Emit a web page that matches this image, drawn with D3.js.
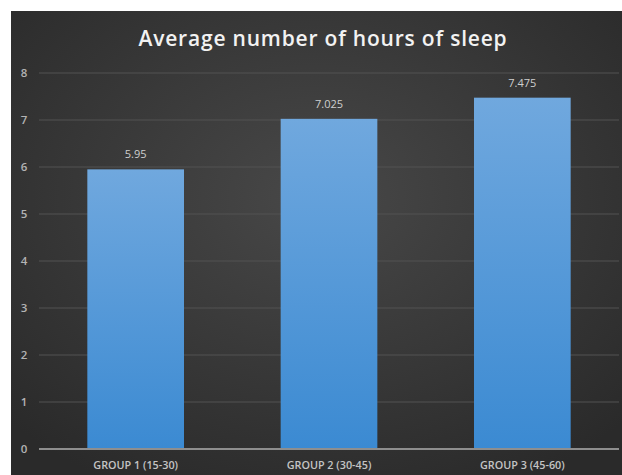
<!DOCTYPE html>
<html><head><meta charset="utf-8">
<script src="https://cdn.jsdelivr.net/npm/d3@7"></script>
<style>html,body{margin:0;padding:0;background:#fff;}svg{display:block;}</style>
</head><body>
<script>
const categories = ["GROUP 1 (15-30)", "GROUP 2 (30-45)", "GROUP 3 (45-60)"];
const values = [5.95, 7.025, 7.475];
const valueLabels = ["5.95", "7.025", "7.475"];
const yTicks = [0, 1, 2, 3, 4, 5, 6, 7, 8];
const title = "Average number of hours of sleep";

const W = 622, H = 475;
const svg = d3.select("body").append("svg").attr("width", W).attr("height", H);
const defs = svg.append("defs");
const bg = defs.append("radialGradient").attr("id", "bg").attr("cx", "50%").attr("cy", "40%").attr("r", "70%");
bg.append("stop").attr("offset", "0%").attr("stop-color", "#484848");
bg.append("stop").attr("offset", "100%").attr("stop-color", "#2a2a2a");
const bar = defs.append("linearGradient").attr("id", "bar").attr("x1", 0).attr("y1", 0).attr("x2", 0).attr("y2", 1);
bar.append("stop").attr("offset", "0%").attr("stop-color", "#70a8de");
bar.append("stop").attr("offset", "100%").attr("stop-color", "#3b8ad2");

svg.append("rect").attr("x", 11).attr("y", 11).attr("width", W - 11).attr("height", H - 11).attr("fill", "url(#bg)");

const x = d3.scaleBand().domain(categories).range([39, 619]).paddingInner(0.5).paddingOuter(0.25);
const y = d3.scaleLinear().domain([0, 8]).range([449, 73]);

svg.append("g").selectAll("line").data(yTicks.filter(d => d > 0)).join("line")
  .attr("x1", 39).attr("x2", 619).attr("y1", d => y(d)).attr("y2", d => y(d))
  .attr("stroke", "#525252").attr("stroke-width", 1);

const yAxis = svg.append("g").attr("transform", "translate(24,0)")
  .call(d3.axisLeft(y).tickValues(yTicks).tickSize(0).tickPadding(0).tickFormat(d3.format("d")));
yAxis.select(".domain").remove();
yAxis.selectAll("text").attr("fill", "#b4b4b4").attr("font-family", "Open Sans").attr("font-weight", 600).attr("font-size", 11.5).attr("text-anchor", "middle");

svg.append("g").selectAll("rect").data(values).join("rect")
  .attr("x", (d, i) => x(categories[i])).attr("width", x.bandwidth())
  .attr("y", d => y(d)).attr("height", d => y(0) - y(d))
  .attr("fill", "url(#bar)");

svg.append("line").attr("x1", 39).attr("x2", 619).attr("y1", y(0)).attr("y2", y(0))
  .attr("stroke", "#8e8e8e").attr("stroke-width", 2);

svg.append("g").selectAll("text").data(values).join("text")
  .attr("x", (d, i) => x(categories[i]) + x.bandwidth() / 2).attr("y", d => y(d) - 11)
  .attr("text-anchor", "middle").attr("fill", "#cfcfcf").attr("font-family", "Open Sans").attr("font-size", 11)
  .text((d, i) => valueLabels[i]);

const xAxis = svg.append("g").attr("transform", `translate(0,${y(0)})`)
  .call(d3.axisBottom(x).tickSize(0).tickPadding(12));
xAxis.select(".domain").remove();
xAxis.selectAll("text").attr("fill", "#c4c4c4").attr("font-family", "Open Sans").attr("font-size", 10.8).attr("font-weight", 600);

svg.append("text").attr("x", 323).attr("y", 46).attr("text-anchor", "middle")
  .attr("fill", "#f2f2f2").attr("font-family", "Open Sans").attr("font-weight", 600).attr("font-size", 21)
  .attr("letter-spacing", 0.8).text(title);
</script>
</body></html>
